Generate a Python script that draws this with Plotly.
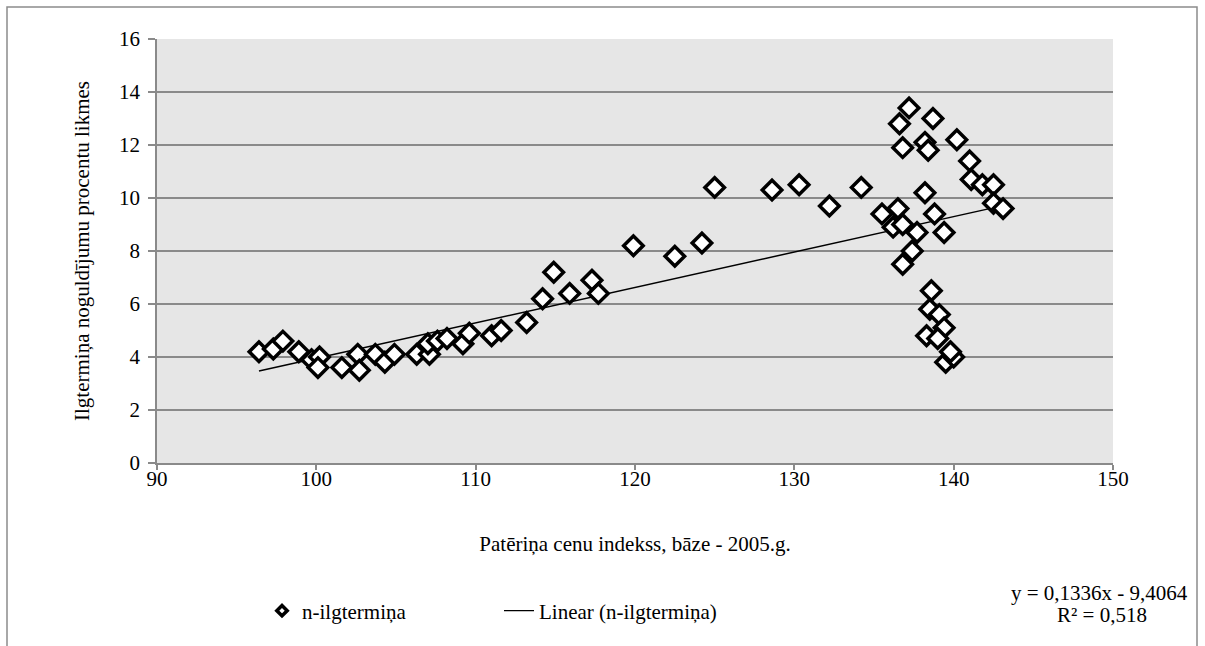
import plotly.graph_objects as go

# Consumer price index (base 2005) and long-term deposit interest rates
cpi = [
    96.4, 97.3, 97.9, 98.9, 99.7, 100.2, 100.1, 101.6, 102.6, 102.7,
    103.7, 104.3, 104.9, 106.3, 107.1, 107.0, 107.6, 108.2, 109.2, 109.6,
    111.0, 111.6, 113.2, 114.2, 114.9, 115.9, 117.3, 117.7, 119.9, 122.5,
    124.2, 125.0, 128.6, 130.3, 132.2, 134.2, 137.2, 136.6, 138.7, 136.8,
    138.2, 138.4, 140.2, 141.0, 141.1, 141.8, 142.5, 142.5, 143.1, 135.5,
    136.5, 136.2, 136.8, 137.7, 138.2, 138.8, 139.4, 137.4, 136.8, 138.6,
    138.5, 139.1, 139.4, 138.3, 139.0, 139.5, 140.0, 139.8,
]
rate = [
    4.2, 4.3, 4.6, 4.2, 3.9, 4.0, 3.6, 3.6, 4.1, 3.5,
    4.1, 3.8, 4.1, 4.1, 4.1, 4.5, 4.6, 4.7, 4.5, 4.9,
    4.8, 5.0, 5.3, 6.2, 7.2, 6.4, 6.9, 6.4, 8.2, 7.8,
    8.3, 10.4, 10.3, 10.5, 9.7, 10.4, 13.4, 12.8, 13.0, 11.9,
    12.1, 11.8, 12.2, 11.4, 10.7, 10.5, 10.5, 9.8, 9.6, 9.4,
    9.6, 8.9, 9.0, 8.7, 10.2, 9.4, 8.7, 8.0, 7.5, 6.5,
    5.8, 5.6, 5.1, 4.8, 4.7, 3.8, 4.0, 4.2,
]

# Linear trendline as stated in the equation label
slope = 0.1336
intercept = -9.4064
r_squared = 0.518

series_name = "n-ilgtermiņa"
trend_name = "Linear (n-ilgtermiņa)"
x_title = "Patēriņa cenu indekss, bāze - 2005.g."
y_title = "Ilgtermiņa noguldījumu procentu likmes"

x_line = [min(cpi), max(cpi)]
y_line = [slope * v + intercept for v in x_line]

FONT = "Liberation Serif"
FS = 21
GRID = "#8a8a8a"

fig = go.Figure()
fig.add_trace(go.Scatter(
    x=x_line, y=y_line, mode="lines", name=trend_name,
    line=dict(color="black", width=1.5), showlegend=False,
))
fig.add_trace(go.Scatter(
    x=cpi, y=rate, mode="markers", name=series_name,
    marker=dict(symbol="diamond", size=15, color="white",
                line=dict(color="black", width=3.5)),
    showlegend=False,
))
# legend-only entries (compact marker swatch, thin line swatch)
fig.add_trace(go.Scatter(
    x=[None], y=[None], mode="markers", name=series_name,
    marker=dict(symbol="diamond", size=8, color="white",
                line=dict(color="black", width=3.5)),
))
fig.add_trace(go.Scatter(
    x=[None], y=[None], mode="lines", name=trend_name,
    line=dict(color="black", width=1.2),
))

# plot-area geometry in pixels (used to place the frame and labels)
W, H = 1205, 646
ml, mr, mt, mb = 157, 92, 39, 183
pw, ph = W - ml - mr, H - mt - mb

def px_x(p):
    return (p - ml) / pw

def px_y(p):
    return (H - mb - p) / ph

fig.add_shape(type="rect", xref="paper", yref="paper",
              x0=px_x(7), x1=px_x(1197), y0=px_y(700), y1=px_y(7),
              line=dict(color="#8c8c8c", width=1.5), layer="below")

eq_text = f"y = {slope:.4f}x - {abs(intercept):.4f}".replace(".", ",")
r2_text = f"R² = {r_squared:.3f}".replace(".", ",")
fig.add_annotation(xref="paper", yref="paper", x=px_x(1190), y=px_y(593),
                   xanchor="right", yanchor="middle",
                   text=eq_text, showarrow=False,
                   font=dict(family=FONT, size=FS, color="black"))
fig.add_annotation(xref="paper", yref="paper", x=px_x(1102), y=px_y(615),
                   xanchor="center", yanchor="middle",
                   text=r2_text, showarrow=False,
                   font=dict(family=FONT, size=FS, color="black"))

fig.update_layout(
    width=W, height=H,
    margin=dict(l=ml, r=mr, t=mt, b=mb),
    paper_bgcolor="white",
    plot_bgcolor="#e6e6e6",
    font=dict(family=FONT, size=FS, color="black"),
    showlegend=True,
    legend=dict(
        orientation="h", x=px_x(262), y=px_y(611),
        xanchor="left", yanchor="middle",
        entrywidth=192, entrywidthmode="pixels",
        bgcolor="rgba(0,0,0,0)",
        font=dict(family=FONT, size=FS, color="black"),
        itemsizing="trace",
    ),
    xaxis=dict(
        range=[90, 150], dtick=10, tick0=90,
        showgrid=False, zeroline=False,
        showline=True, linecolor=GRID, linewidth=1.5,
        ticks="outside", ticklen=5, tickcolor=GRID, tickwidth=1.5,
        ticklabelstandoff=-9,
        title=dict(text=x_title, standoff=46,
                   font=dict(family=FONT, size=FS)),
        tickfont=dict(family=FONT, size=FS),
    ),
    yaxis=dict(
        range=[0, 16], dtick=2, tick0=0,
        showgrid=True, gridcolor=GRID, gridwidth=1.5,
        zeroline=False,
        showline=True, linecolor=GRID, linewidth=1.5,
        ticks="outside", ticklen=7, tickcolor=GRID, tickwidth=1.5,
        ticklabelstandoff=4,
        title=dict(text=y_title, standoff=24,
                   font=dict(family=FONT, size=FS)),
        tickfont=dict(family=FONT, size=FS),
    ),
)

fig.write_html("out.html")
